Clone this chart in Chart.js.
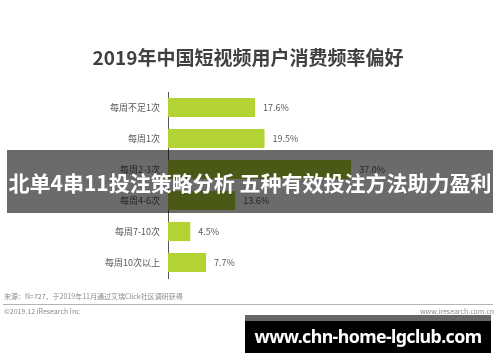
<!DOCTYPE html>
<html>
<head>
<meta charset="utf-8">
<script src="https://cdn.jsdelivr.net/npm/chart.js@4.4.1/dist/chart.umd.min.js"></script>
<style>
    html, body { margin: 0; padding: 0; background: #fff; }
    #wrap { position: relative; width: 500px; height: 362px; overflow: hidden; font-family: "Noto Sans CJK SC", sans-serif; }
    #chart { position: absolute; left: 0; top: 0; }
    .abs { position: absolute; white-space: nowrap; }
    #title { left: 0; width: 496px; top: 43px; text-align: center; font-size: 19px; font-weight: bold; color: #404040; }
    #source { left: 4px; top: 291px; font-size: 7px; color: #8a8a8a; }
    #rule { left: 3px; width: 490px; top: 304px; height: 1px; background: #b5b5b5; }
    #copy { left: 4px; top: 306px; font-size: 7px; color: #8a8a8a; }
    #site { right: 6px; top: 306px; font-size: 7px; color: #8a8a8a; }
    #band { left: 7px; width: 486px; top: 150px; height: 63px; background: rgba(0, 0, 0, 0.58); }
    #bandText { left: 0; width: 500px; top: 167px; text-align: center; font-size: 21px; font-weight: bold; color: #fff; }
    #box { left: 245px; width: 246px; top: 315px; height: 38px; background: #000; }
    #boxStrip { left: 245px; width: 246px; top: 315px; height: 6px; background: #666; }
    #boxText { left: 245px; width: 246px; top: 336px; line-height: 0; text-align: center; font-family: "Noto Sans", sans-serif; font-size: 17.8px; font-weight: bold; color: #fff; letter-spacing: -0.6px; }
</style>
</head>
<body>
<div id="wrap">
    <canvas id="chart" width="500" height="362"></canvas>
    <div class="abs" id="title">2019年中国短视频用户消费频率偏好</div>
    <div class="abs" id="source">来源：N=727，于2019年11月通过艾瑞Click社区调研获得</div>
    <div class="abs" id="rule"></div>
    <div class="abs" id="copy">©2019.12 iResearch Inc</div>
    <div class="abs" id="site">www.iresearch.com.cn</div>
    <div class="abs" id="band"></div>
    <div class="abs" id="bandText">北单4串11投注策略分析 五种有效投注方法助力盈利</div>
    <div class="abs" id="box"></div>
    <div class="abs" id="boxStrip"></div>
    <div class="abs" id="boxText">www.chn-home-lgclub.com</div>
</div>
<script>
// 消费频率 categories and shares (%)
const categories = ['每周不足1次', '每周1次', '每周2-3次', '每周4-6次', '每周7-10次', '每周10次以上'];
const shares = [17.6, 19.5, 37.0, 13.6, 4.5, 7.7];

const LABEL_FONT = '"Noto Sans CJK SC", sans-serif';

// value labels at the end of each bar
const valueLabels = {
    id: 'valueLabels',
    afterDatasetsDraw(chart) {
        const ctx = chart.ctx;
        const meta = chart.getDatasetMeta(0);
        ctx.save();
        ctx.font = '9px ' + LABEL_FONT;
        ctx.fillStyle = '#595959';
        ctx.textAlign = 'left';
        ctx.textBaseline = 'middle';
        meta.data.forEach((bar, i) => {
            ctx.fillText(shares[i].toFixed(1) + '%', bar.x + 8, bar.y);
        });
        ctx.restore();
    }
};

new Chart(document.getElementById('chart'), {
    type: 'bar',
    data: {
        labels: categories,
        datasets: [{
            data: shares,
            backgroundColor: '#b3d335',
            borderWidth: 0,
            barPercentage: 0.62,
            categoryPercentage: 1
        }]
    },
    options: {
        indexAxis: 'y',
        responsive: false,
        animation: false,
        layout: { padding: { top: 92, bottom: 84, left: 0, right: 134 } },
        plugins: {
            legend: { display: false },
            tooltip: { enabled: false }
        },
        scales: {
            x: { display: false, min: 0, max: 40 },
            y: {
                afterFit: axis => { axis.width = 168; },
                grid: { display: false, drawTicks: false },
                border: { display: true, color: '#555', width: 1 },
                ticks: {
                    padding: 8,
                    color: '#595959',
                    font: { size: 9, family: LABEL_FONT }
                }
            }
        }
    },
    plugins: [valueLabels]
});
</script>
</body>
</html>
